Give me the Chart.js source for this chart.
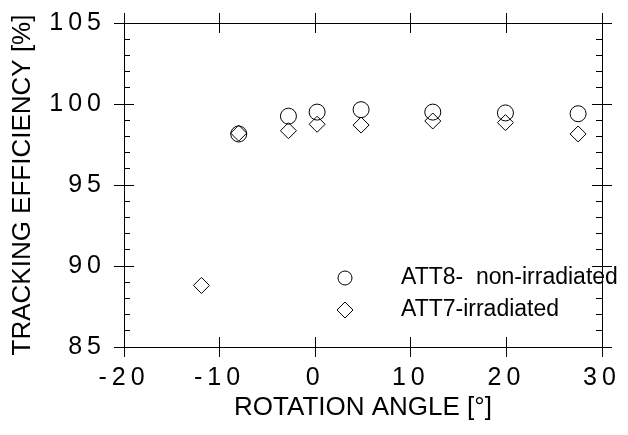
<!DOCTYPE html>
<html>
<head>
<meta charset="utf-8">
<script src="https://cdn.jsdelivr.net/npm/chart.js@4/dist/chart.umd.min.js"></script>
<style>
  body { margin: 0; background: #fff; }
  #wrap { width: 628px; height: 435px; }
</style>
</head>
<body>
<div id="wrap"><canvas id="chart" width="628" height="435"></canvas></div>
<script>
// data
const angleATT8 = [-8, -2.8, 0.2, 4.8, 12.3, 19.9, 27.5];
const effATT8 = [98.15, 99.25, 99.5, 99.65, 99.5, 99.45, 99.4];
const angleATT7 = [-11.9, -8, -2.8, 0.2, 4.8, 12.3, 19.9, 27.5];
const effATT7 = [88.8, 98.2, 98.35, 98.75, 98.7, 98.95, 98.85, 98.15];

const labelATT8 = 'ATT8-  non-irradiated';
const labelATT7 = 'ATT7-irradiated';

const xTicks = [-20, -10, 0, 10, 20, 30];
const yTicks = [85, 90, 95, 100, 105];
const yMinorTicks = [85, 86, 87, 88, 89, 90, 91, 92, 93, 94, 95, 96, 97, 98, 99, 100, 101, 102, 103, 104, 105];

Chart.defaults.font.family = "'Liberation Sans', Arial, sans-serif";
Chart.defaults.color = '#000';

function toPoints(xs, ys) {
  return xs.map((x, i) => ({ x: x, y: ys[i] }));
}

function setTicks(values) {
  return function(scale) {
    scale.ticks = values.map(v => ({ value: v }));
  };
}

// one axis that only draws tick marks (length < 0 points into the plot)
function tickAxis(position, values, length, weight, size) {
  const horizontal = position === 'top' || position === 'bottom';
  return {
    type: 'linear',
    position: position,
    weight: weight,
    min: horizontal ? -20 : 85,
    max: horizontal ? 30 : 105,
    afterBuildTicks: setTicks(values),
    afterFit: function(scale) {
      if (horizontal) scale.height = size; else scale.width = size;
    },
    border: { display: size > 0, color: '#000', width: 1 },
    grid: { drawOnChartArea: false, tickLength: length, tickColor: '#000', tickWidth: 1 },
    ticks: { display: false }
  };
}

const xAxis = tickAxis('bottom', xTicks, 10, 1, 88);
xAxis.ticks = { display: true, z: 1, padding: 6, maxRotation: 0, autoSkip: false, font: { size: 25 } };
xAxis.title = { display: true, text: 'ROTATION ANGLE [°]', font: { size: 26, lineHeight: 1 }, padding: { top: 0, bottom: 14 } };

const yAxis = tickAxis('left', yTicks, 10, 1, 124);
yAxis.ticks = { display: true, z: 1, padding: 8, autoSkip: false, font: { size: 25 } };
yAxis.title = { display: true, text: 'TRACKING EFFICIENCY [%]', font: { size: 26, lineHeight: 1 }, padding: { top: 10, bottom: 0 } };

// tick labels are spaced out, titles are not
const tickSpacing = {
  id: 'tickSpacing',
  beforeDraw(chart) { chart.ctx.letterSpacing = '0px'; },
  afterDatasetsDraw(chart) { chart.ctx.letterSpacing = '5px'; },
  afterDraw(chart) { chart.ctx.letterSpacing = '0px'; }
};

// legend sitting inside the plot
const insideLegend = {
  id: 'insideLegend',
  afterDraw(chart, args, opts) {
    const ctx = chart.ctx;
    ctx.save();
    ctx.letterSpacing = '0px';
    ctx.font = opts.fontSize + "px 'Liberation Sans', Arial, sans-serif";
    ctx.textBaseline = 'middle';
    ctx.textAlign = 'left';
    ctx.lineWidth = 1;
    chart.data.datasets.forEach((ds, i) => {
      const y = opts.y + i * opts.rowHeight;
      ctx.strokeStyle = '#000';
      ctx.fillStyle = 'rgba(0,0,0,0)';
      Chart.helpers.drawPoint(ctx, { pointStyle: ds.pointStyle, radius: opts.radius[i], borderWidth: 1, rotation: 0 }, opts.x, y);
      ctx.fillStyle = '#000';
      ctx.fillText(ds.label, opts.textX, y);
    });
    ctx.restore();
  }
};

new Chart(document.getElementById('chart'), {
  type: 'scatter',
  data: {
    datasets: [
      {
        label: labelATT8,
        data: toPoints(angleATT8, effATT8),
        pointStyle: 'circle',
        pointRadius: 8,
        pointHoverRadius: 8,
        pointBorderWidth: 1,
        pointBorderColor: '#000',
        pointBackgroundColor: 'rgba(0,0,0,0)',
        xAxisID: 'x',
        yAxisID: 'y'
      },
      {
        label: labelATT7,
        data: toPoints(angleATT7, effATT7),
        pointStyle: 'rectRot',
        pointRadius: 8,
        pointHoverRadius: 8,
        pointBorderWidth: 1,
        pointBorderColor: '#000',
        pointBackgroundColor: 'rgba(0,0,0,0)',
        xAxisID: 'x',
        yAxisID: 'y'
      }
    ]
  },
  options: {
    responsive: false,
    animation: false,
    layout: { padding: 0 },
    scales: {
      x: xAxis,
      xIn: tickAxis('bottom', xTicks, -10, 0, 0),
      xTop: tickAxis('top', xTicks, 10, 1, 23),
      xTopIn: tickAxis('top', xTicks, -10, 0, 0),
      y: yAxis,
      yIn: tickAxis('left', yTicks, -10, 0, 0),
      yMinor: tickAxis('left', yMinorTicks, -6, 0, 0),
      yR: tickAxis('right', yTicks, 10, 1, 26),
      yRIn: tickAxis('right', yTicks, -10, 0, 0),
      yRMinor: tickAxis('right', yMinorTicks, -6, 0, 0)
    },
    plugins: {
      legend: { display: false },
      tooltip: { enabled: false },
      insideLegend: { x: 345, y: 278, rowHeight: 32, textX: 401, fontSize: 23, radius: [7, 8] }
    }
  },
  plugins: [tickSpacing, insideLegend]
});
</script>
</body>
</html>
